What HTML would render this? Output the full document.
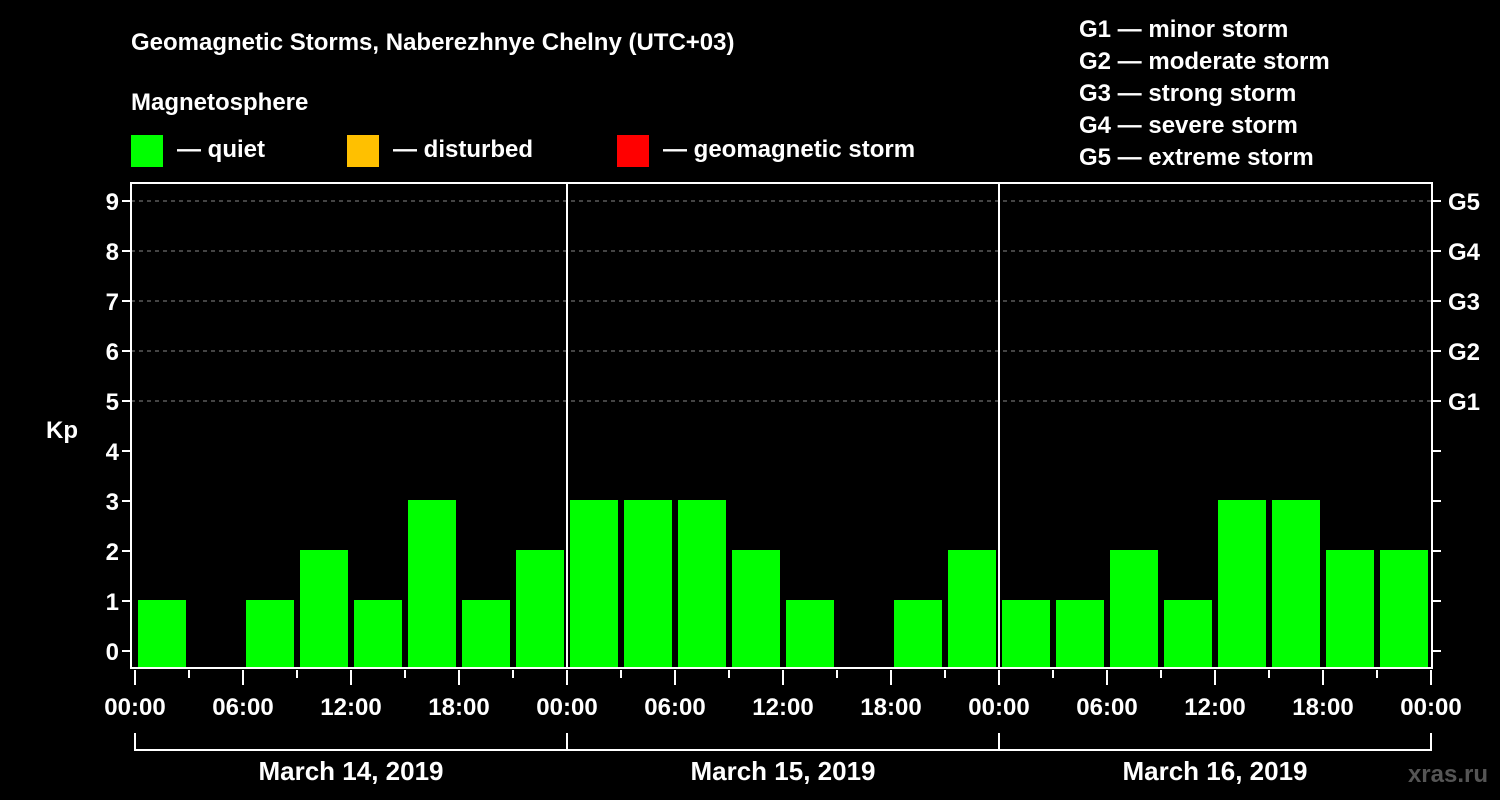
<!DOCTYPE html>
<html><head><meta charset="utf-8"><style>
html,body{margin:0;padding:0;background:#000;}
svg{display:block;font-family:"Liberation Sans",Arial,sans-serif;font-weight:bold;}
</style></head><body>
<svg id="chart" width="1500" height="800" viewBox="0 0 1500 800">
<rect width="1500" height="800" fill="#000"/>
<text x="131" y="50" fill="#fff" font-size="24">Geomagnetic Storms, Naberezhnye Chelny (UTC+03)</text>
<text x="131" y="110" fill="#fff" font-size="24">Magnetosphere</text>
<g><rect x="131" y="135" width="32" height="32" fill="#00ff00"/><text x="177" y="157" fill="#fff" font-size="24">— quiet</text></g>
<g><rect x="347" y="135" width="32" height="32" fill="#ffc000"/><text x="393" y="157" fill="#fff" font-size="24">— disturbed</text></g>
<g><rect x="617" y="135" width="32" height="32" fill="#ff0000"/><text x="663" y="157" fill="#fff" font-size="24">— geomagnetic storm</text></g>
<g fill="#fff" font-size="24">
<text x="1079" y="37">G1 — minor storm</text>
<text x="1079" y="69">G2 — moderate storm</text>
<text x="1079" y="101">G3 — strong storm</text>
<text x="1079" y="133">G4 — severe storm</text>
<text x="1079" y="165">G5 — extreme storm</text>
</g>
<text x="62" y="438" fill="#fff" font-size="24" text-anchor="middle">Kp</text>
<text x="1488" y="782" fill="#555" font-size="24" text-anchor="end">xras.ru</text>
<g id="plot"></g>
</svg>
<script>
const days = ["March 14, 2019","March 15, 2019","March 16, 2019"];
const kpValues = [1,0,1,2,1,3,1,2, 3,3,3,2,1,0,1,2, 1,1,2,1,3,3,2,2];
const yTicks = [0,1,2,3,4,5,6,7,8,9];
const gLabels = ["G1","G2","G3","G4","G5"];
const gLevels = [5,6,7,8,9];
const hourLabels = ["00:00","06:00","12:00","18:00"];

const NS="http://www.w3.org/2000/svg";
const g=document.getElementById('plot');
const X0=135, DAYW=432, L=131, R=1432, T=183, B=668;
const xScale=h=>X0+h*18;
const yScale=v=>651-v*50;
function mk(t,a){const e=document.createElementNS(NS,t);for(const k in a)e.setAttribute(k,a[k]);g.appendChild(e);return e;}
function color(v){return v>=5?"#ff0000":(v>=4?"#ffc000":"#00ff00");}
// gridlines
yTicks.forEach(v=>{
  if(v>=5){const l=mk('line',{x1:L,x2:R,y1:yScale(v),y2:yScale(v),stroke:'#888','stroke-dasharray':'4,4','stroke-width':1});
  
  }
  const t=mk('line',{x1:L-9,x2:L,y1:yScale(v),y2:yScale(v),stroke:'#fff','stroke-width':2});
  
  
  const t2=mk('line',{x1:R,x2:R+9,y1:yScale(v),y2:yScale(v),stroke:'#fff','stroke-width':2});
  
  
  const tx=mk('text',{x:L-12,y:yScale(v)+9,fill:'#fff','font-size':24,'text-anchor':'end'});
  tx.textContent=v;
  
  
});
gLevels.forEach((v,i)=>{
  const tx=mk('text',{x:1448,y:yScale(v)+9,fill:'#fff','font-size':24});
  tx.textContent=gLabels[i];
  
  
});
// bars
kpValues.forEach((v,i)=>{
  const x=xScale(i*3)+3, top=yScale(v)-1;
  if(v<=0) return;
  const r=mk('rect',{x:x,y:top,width:48,height:B-top,fill:color(v)});
  
  
});
// frame and day separators
const fr=mk('rect',{x:L,y:T,width:R-L,height:B-T,fill:'none',stroke:'#fff','stroke-width':2});


for(let d=1;d<days.length;d++){
  const l=mk('line',{x1:X0+d*DAYW,x2:X0+d*DAYW,y1:T,y2:B,stroke:'#fff','stroke-width':2});
  
  
}
// x ticks
for(let h=0;h<=72;h+=3){
  const major=h%6===0;
  const l=mk('line',{x1:xScale(h),x2:xScale(h),y1:B+2,y2:major?B+17:B+10,stroke:'#fff','stroke-width':2});
  
  
  if(major){
    const tx=mk('text',{x:xScale(h),y:715,fill:'#fff','font-size':24,'text-anchor':'middle'});
    tx.textContent=hourLabels[(h/6)%4];
    
    
  }
}
// date bracket
const bl=mk('line',{x1:X0,x2:X0+days.length*DAYW,y1:750,y2:750,stroke:'#fff','stroke-width':2});


for(let d=0;d<=days.length;d++){
  const l=mk('line',{x1:X0+d*DAYW,x2:X0+d*DAYW,y1:733,y2:751,stroke:'#fff','stroke-width':2});
  
  
}
days.forEach((d,i)=>{
  const tx=mk('text',{x:X0+i*DAYW+DAYW/2,y:780,fill:'#fff','font-size':26,'text-anchor':'middle'});
  tx.textContent=d;
  
  
});
</script>
</body></html>
